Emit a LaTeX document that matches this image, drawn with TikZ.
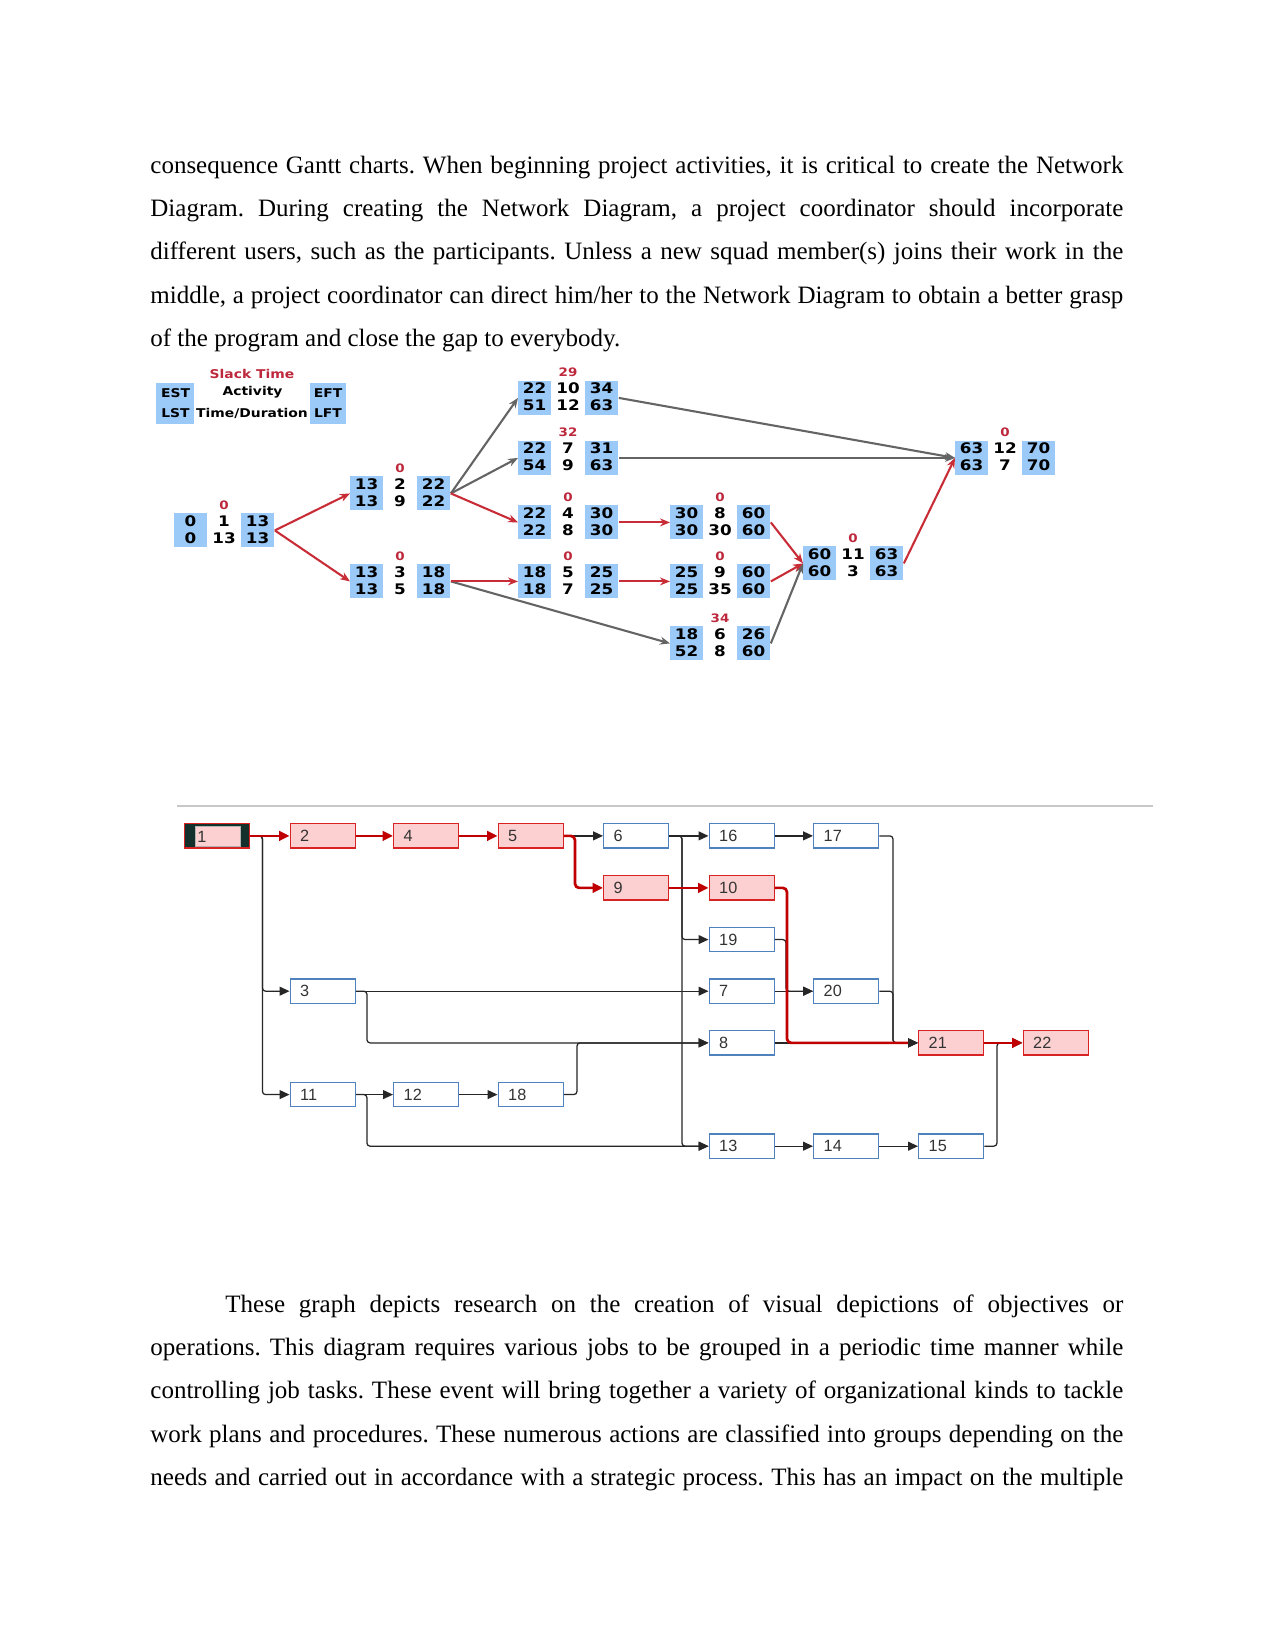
\documentclass[tikz,border=0pt]{standalone}
\usepackage{fontspec}
\setmainfont{Liberation Serif}
\newfontfamily\netfont[FakeStretch=1.15]{DejaVu Sans}
\newfontfamily\boxfont{Liberation Sans}
\usetikzlibrary{arrows.meta}
\definecolor{boxblue}{RGB}{155,202,248}
\definecolor{slackred}{RGB}{190,40,60}
\definecolor{critline}{RGB}{200,45,55}
\definecolor{grayline}{RGB}{100,100,100}
\definecolor{taskblue}{RGB}{79,129,189}
\definecolor{taskred}{RGB}{215,35,35}
\definecolor{taskpink}{RGB}{252,208,208}
\definecolor{critred}{RGB}{192,0,0}
\definecolor{darkframe}{RGB}{20,48,44}
\definecolor{sepgray}{RGB}{200,200,200}
\newcommand\act[9]{%
  \begin{scope}[shift={(#2)}]
    \node[actframe] (#1) at (0,0) {};
    \node[bbox] (#1-l) at (0,0) {};
    \node[bbox, anchor=north east] (#1-r) at (100,0) {};
    \node[num] (#1-est) at (16.5,8) {#3};
    \node[num] (#1-id) at (50,8) {#4};
    \node[num] (#1-eft) at (83.5,8) {#5};
    \node[num] (#1-lst) at (16.5,25) {#6};
    \node[num] (#1-dur) at (50,25) {#7};
    \node[num] (#1-lft) at (83.5,25) {#8};
    \node[slk] (#1-s) at (50,-8) {#9};
  \end{scope}}
\begin{document}
\frenchspacing
\begin{tikzpicture}[x=0.48pt,y=-0.48pt,
  para/.style={anchor=base west, inner sep=0, font=\fontsize{12}{14}\selectfont},
  actframe/.style={minimum width=48pt, minimum height=16.32pt, inner sep=0, anchor=north west},
  bbox/.style={fill=boxblue, minimum width=15.84pt, minimum height=16.32pt, inner sep=0, anchor=north west},
  num/.style={inner sep=0, font=\netfont\bfseries\fontsize{7}{7}\selectfont},
  slk/.style={inner sep=0, text=slackred, font=\netfont\bfseries\fontsize{5.6}{6}\selectfont},
  leg/.style={inner sep=0, font=\netfont\bfseries\fontsize{5.8}{6}\selectfont},
  critarr/.style={draw=critline, line width=1pt, -{Stealth[length=4.8pt,width=3.8pt]}},
  grayarr/.style={draw=grayline, line width=1pt, -{Stealth[length=4.8pt,width=3.8pt]}},
  task/.style={draw=taskblue, fill=white, line width=0.7pt, minimum height=11.66pt,
    inner xsep=4.8pt, inner ysep=0, text width=21.6pt, align=left, anchor=north west,
    font=\boxfont\fontsize{7.8}{8}\selectfont, text=black!80},
  rtask/.style={task, draw=taskred, fill=taskpink},
  lnk/.style={draw=black!85, line width=0.6pt, rounded corners=1.5pt,
    -{Triangle[length=4.8pt,width=4.3pt]}},
  crit/.style={draw=critred, line width=1.3pt, rounded corners=2pt,
    -{Triangle[length=5pt,width=4.6pt]}},
  critnotip/.style={draw=critred, line width=1.3pt, rounded corners=2pt}
]
\fill[white] (0,0) rectangle (1275,1651);
\useasboundingbox (0,0) rectangle (1275,1651);

% ---------- top paragraph ----------
\node[para] (t1) at (150,174) {\makebox[467pt][s]{consequence Gantt charts. When beginning project activities, it is critical to create the Network}};
\node[para] (t2) at (150,217) {\makebox[467pt][s]{Diagram. During creating the Network Diagram, a project coordinator should incorporate}};
\node[para] (t3) at (150,260) {\makebox[467pt][s]{different users, such as the participants. Unless a new squad member(s) joins their work in the}};
\node[para] (t4) at (150,303.3) {\makebox[467pt][s]{middle, a project coordinator can direct him/her to the Network Diagram to obtain a better grasp}};
\node[para] (t5) at (150,346.5) {of the program and close the gap to everybody.};

% ---------- legend ----------
\node[fill=boxblue, minimum width=18.2pt, minimum height=19.7pt, inner sep=0, anchor=north west] (legL) at (156,383) {};
\node[fill=boxblue, minimum width=17.3pt, minimum height=19.7pt, inner sep=0, anchor=north west] (legR) at (310,383) {};
\node[leg, text=slackred] (legS) at (252,374) {Slack Time};
\node[leg] (legEST) at (175.5,392.7) {EST};
\node[leg] (legLST) at (175.5,413.3) {LST};
\node[leg] (legA) at (252.5,392.7) {Activity};
\node[leg] (legT) at (252,413.3) {Time/Duration};
\node[leg] (legEFT) at (328,392.7) {EFT};
\node[leg] (legLFT) at (328,413.3) {LFT};

% ---------- activity nodes ----------
\act{n1}{174,513}{0}{1}{13}{0}{13}{13}{0}
\act{n2}{350,476}{13}{2}{22}{13}{9}{22}{0}
\act{n3}{350,564}{13}{3}{18}{13}{5}{18}{0}
\act{n10}{518,380.5}{22}{10}{34}{51}{12}{63}{29}
\act{n7}{518,440.5}{22}{7}{31}{54}{9}{63}{32}
\act{n4}{518,505}{22}{4}{30}{22}{8}{30}{0}
\act{n5}{518,564}{18}{5}{25}{18}{7}{25}{0}
\act{n8}{670,505}{30}{8}{60}{30}{30}{60}{0}
\act{n9}{670,564}{25}{9}{60}{25}{35}{60}{0}
\act{n6}{670,626}{18}{6}{26}{52}{8}{60}{34}
\act{n11}{803,546}{60}{11}{63}{60}{3}{63}{0}
\act{n12}{955,440.5}{63}{12}{70}{63}{7}{70}{0}

\draw[grayarr] (n2.east) -- (n10.west);
\draw[grayarr] (n2.east) -- (n7.west);
\draw[grayarr] (n3.east) -- (n6.west);
\draw[grayarr] (n6.east) -- (n11.west);
\draw[grayarr] (n10.east) -- (n12.west);
\draw[grayarr] (n7.east) -- (n12.west);
\draw[critarr] (n1.east) -- (n2.west);
\draw[critarr] (n1.east) -- (n3.west);
\draw[critarr] (n2.east) -- (n4.west);
\draw[critarr] (n3.east) -- (n5.west);
\draw[critarr] (n4.east) -- (n8.west);
\draw[critarr] (n5.east) -- (n9.west);
\draw[critarr] (n8.east) -- (n11.west);
\draw[critarr] (n9.east) -- (n11.west);
\draw[critarr] (n11.east) -- (n12.west);

% ---------- separator ----------
\coordinate (sepA) at (177,806);
\coordinate (sepB) at (1153,806);
\draw[sepgray, line width=1.4pt] (sepA) -- (sepB);

% ---------- bottom network ----------
\node[task, draw=taskred, fill=darkframe] (b1) at (184,823) {};
\node[fill=taskpink, draw=black!30, line width=0.3pt, minimum height=9.8pt, inner xsep=1pt, inner ysep=0,
  text width=19.4pt, align=left, anchor=north west, font=\boxfont\fontsize{7.8}{8}\selectfont, text=black!80] (b1in) at (195,826) {1};
\node[rtask] (b2) at (289.5,823) {2};
\node[rtask] (b4) at (393,823) {4};
\node[rtask] (b5) at (497.5,823) {5};
\node[task] (b6) at (603,823) {6};
\node[rtask] (b9) at (603,875) {9};
\node[task] (b16) at (708.5,823) {16};
\node[rtask] (b10) at (708.5,875) {10};
\node[task] (b19) at (708.5,926.7) {19};
\node[task] (b7) at (708.5,978.3) {7};
\node[task] (b8) at (708.5,1030) {8};
\node[task] (b13) at (708.5,1133.3) {13};
\node[task] (b17) at (813,823) {17};
\node[task] (b20) at (813,978.3) {20};
\node[task] (b14) at (813,1133.3) {14};
\node[rtask] (b21) at (918,1030) {21};
\node[task] (b15) at (918,1133.3) {15};
\node[rtask] (b22) at (1022.5,1030) {22};
\node[task] (b3) at (289.5,978.3) {3};
\node[task] (b11) at (289.5,1081.7) {11};
\node[task] (b12) at (393,1081.7) {12};
\node[task] (b18) at (497.5,1081.7) {18};

\draw[lnk] (b1.east) -- ++(12,0) |- (b3.west);
\draw[lnk] (b1.east) -- ++(12,0) |- (b11.west);
\draw[lnk] (b5.east) -- (b6.west);
\draw[lnk] (b6.east) -- (b16.west);
\draw[lnk] (b6.east) -- ++(12.5,0) |- (b19.west);
\draw[lnk] (b6.east) -- ++(12.5,0) |- (b13.west);
\draw[lnk] (b16.east) -- (b17.west);
\draw[lnk] (b17.east) -- ++(13.5,0) |- (b21.west);
\draw[lnk] (b19.east) -- ++(11,0) |- (b20.west);
\draw[lnk] (b7.east) -- (b20.west);
\draw[lnk] (b20.east) -- ++(13.5,0) |- (b21.west);
\draw[lnk] (b8.east) -- (b21.west);
\draw[lnk] (b3.east) -- (b7.west);
\draw[lnk] (b3.east) -- ++(11,0) |- (b8.west);
\draw[lnk] (b18.east) -- ++(13,0) |- (b8.west);
\draw[lnk] (b11.east) -- (b12.west);
\draw[lnk] (b12.east) -- (b18.west);
\draw[lnk] (b11.east) -- ++(11,0) |- (b13.west);
\draw[lnk] (b13.east) -- (b14.west);
\draw[lnk] (b14.east) -- (b15.west);
\draw[lnk] (b15.east) -- ++(12.5,0) |- (b22.west);

\draw[crit] (b1.east) -- (b2.west);
\draw[crit] (b2.east) -- (b4.west);
\draw[crit] (b4.east) -- (b5.west);
\draw[crit] (b5.east) -- ++(11,0) |- (b9.west);
\draw[crit] (b9.east) -- (b10.west);
\draw[critnotip] (b10.east) -- ++(12,0) |- ([xshift=-4.8pt]b21.west);
\draw[crit] (b21.east) -- (b22.west);

% ---------- bottom paragraph ----------
\node[para] (p1) at (225,1312.6) {\makebox[431pt][s]{These graph depicts research on the creation of visual depictions of objectives or}};
\node[para] (p2) at (150,1355.7) {\makebox[467pt][s]{operations. This diagram requires various jobs to be grouped in a periodic time manner while}};
\node[para] (p3) at (150,1398.9) {\makebox[467pt][s]{controlling job tasks. These event will bring together a variety of organizational kinds to tackle}};
\node[para] (p4) at (150,1442) {\makebox[467pt][s]{work plans and procedures. These numerous actions are classified into groups depending on the}};
\node[para] (p5) at (150,1485) {\makebox[467pt][s]{needs and carried out in accordance with a strategic process. This has an impact on the multiple}};
\end{tikzpicture}
\end{document}
